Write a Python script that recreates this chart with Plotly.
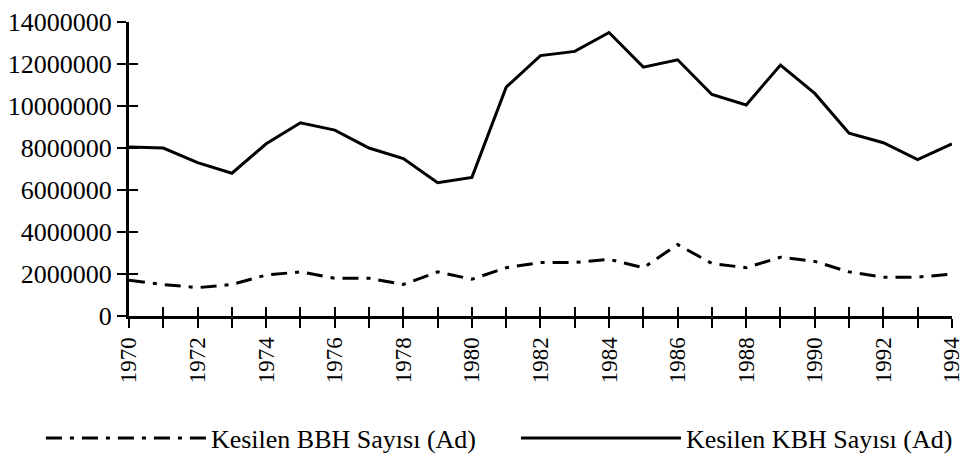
import plotly.graph_objects as go

years = list(range(1970, 1995))
kbh = [8050000, 8000000, 7300000, 6800000, 8200000, 9200000, 8850000, 8000000, 7500000,
       6350000, 6600000, 10900000, 12400000, 12600000, 13500000, 11850000, 12200000,
       10550000, 10050000, 11950000, 10600000, 8700000, 8250000, 7450000, 8200000]
bbh = [1700000, 1500000, 1350000, 1500000, 1950000, 2100000, 1800000, 1800000, 1500000,
       2100000, 1750000, 2300000, 2550000, 2550000, 2700000, 2300000, 3400000, 2500000,
       2300000, 2800000, 2600000, 2100000, 1850000, 1850000, 2000000]
ytick_vals = [0, 2000000, 4000000, 6000000, 8000000, 10000000, 12000000, 14000000]
ytick_text = [str(v) for v in ytick_vals]
xtick_text = [str(y) if (y - 1970) % 2 == 0 else "" for y in years]
name_bbh = "Kesilen BBH Sayısı (Ad)"
name_kbh = "Kesilen KBH Sayısı (Ad)"

FONT = "Liberation Serif"

fig = go.Figure()
fig.add_trace(go.Scatter(x=years, y=bbh, mode="lines", name=name_bbh,
                         line=dict(color="black", width=3, dash="16px,8px,4px,8px"),
                         xaxis="x2", yaxis="y2"))
fig.add_trace(go.Scatter(x=years, y=kbh, mode="lines", name=name_kbh,
                         line=dict(color="black", width=3)))

xr = [1969.999, 1994.002]
yr = [0, 14000000]
fig.update_layout(
    width=966, height=462,
    margin=dict(l=129, r=14, t=22, b=146, autoexpand=False),
    paper_bgcolor="white", plot_bgcolor="white",
    font=dict(family=FONT, color="black", size=26),
    xaxis=dict(range=xr, tickvals=years, ticktext=xtick_text, tickangle=-90,
               ticks="outside", ticklen=9, tickwidth=2, tickcolor="black",
               showline=True, linecolor="black", linewidth=3, showgrid=False,
               zeroline=False, automargin=False, ticklabeloverflow="allow",
               tickfont=dict(size=23, family=FONT)),
    yaxis=dict(range=yr, tickvals=ytick_vals, ticktext=ytick_text,
               ticks="outside", ticklen=9, tickwidth=2, tickcolor="black",
               showline=True, linecolor="black", linewidth=3, showgrid=False,
               zeroline=False, automargin=False, ticklabeloverflow="allow",
               tickfont=dict(size=26, family=FONT)),
    xaxis2=dict(range=xr, overlaying="x", tickvals=years, showticklabels=False,
                ticks="inside", ticklen=9, tickwidth=2, tickcolor="black",
                showline=False, showgrid=False, zeroline=False),
    yaxis2=dict(range=yr, overlaying="y", tickvals=ytick_vals, showticklabels=False,
                ticks="inside", ticklen=9, tickwidth=2, tickcolor="black",
                showline=False, showgrid=False, zeroline=False),
    showlegend=True,
    legend=dict(orientation="h", x=-0.107, y=-0.415, xanchor="left", yanchor="middle",
                itemwidth=160, entrywidth=300, entrywidthmode="pixels",
                font=dict(size=26, family=FONT), bgcolor="rgba(0,0,0,0)"),
)

fig.write_html("out.html", config={"displayModeBar": False},
               post_script="document.body.style.margin='0';document.body.style.padding='0';")
